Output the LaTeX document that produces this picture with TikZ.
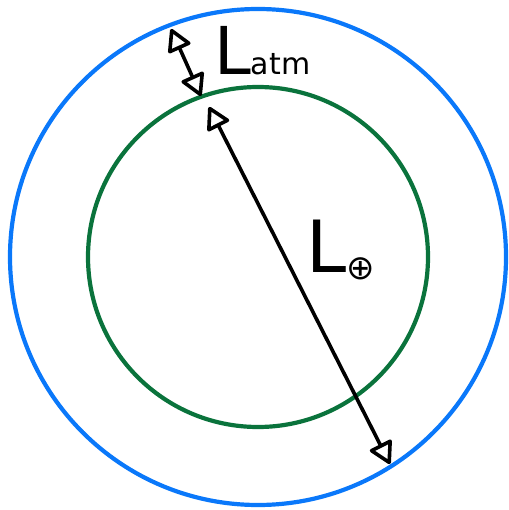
\documentclass[tikz,border=0pt]{standalone}
\usepackage{fontspec}
\setmainfont{DejaVu Sans}
\usetikzlibrary{arrows.meta}
\definecolor{outerblue}{RGB}{10,120,250}
\definecolor{innergreen}{RGB}{10,115,60}
\tikzset{
  ring/.style={line width=4.2pt},
  opentip/.tip={Triangle[open,length=24pt,width=26pt,line width=3.6pt,round]},
  arr/.style={line width=3.6pt, line cap=round, line join=round, {opentip}-{opentip}},
  lbl/.style={inner sep=0pt, anchor=base west}
}
\begin{document}
\begin{tikzpicture}[x=1pt,y=-1pt]
\useasboundingbox (0,0) rectangle (508,510);
\coordinate (c) at (258,257);
\draw[ring, outerblue] (c) circle[radius=248];
\draw[ring, innergreen] (c) circle[radius=170];
\coordinate (a1) at (171,29);
\coordinate (a2) at (201,96);
\coordinate (e1) at (209,107);
\coordinate (e2) at (390,464);
\draw[arr] (a1) -- (a2);
\draw[arr] (e1) -- (e2);
\node[lbl] (latm) at (214,75) {\fontsize{66}{66}\selectfont L\fontsize{30}{30}\selectfont atm};
\node[lbl] (learth) at (306,272) {\fontsize{72}{72}\selectfont L\raisebox{-7pt}{\fontsize{34}{34}\selectfont ⊕}};
\end{tikzpicture}
\end{document}
